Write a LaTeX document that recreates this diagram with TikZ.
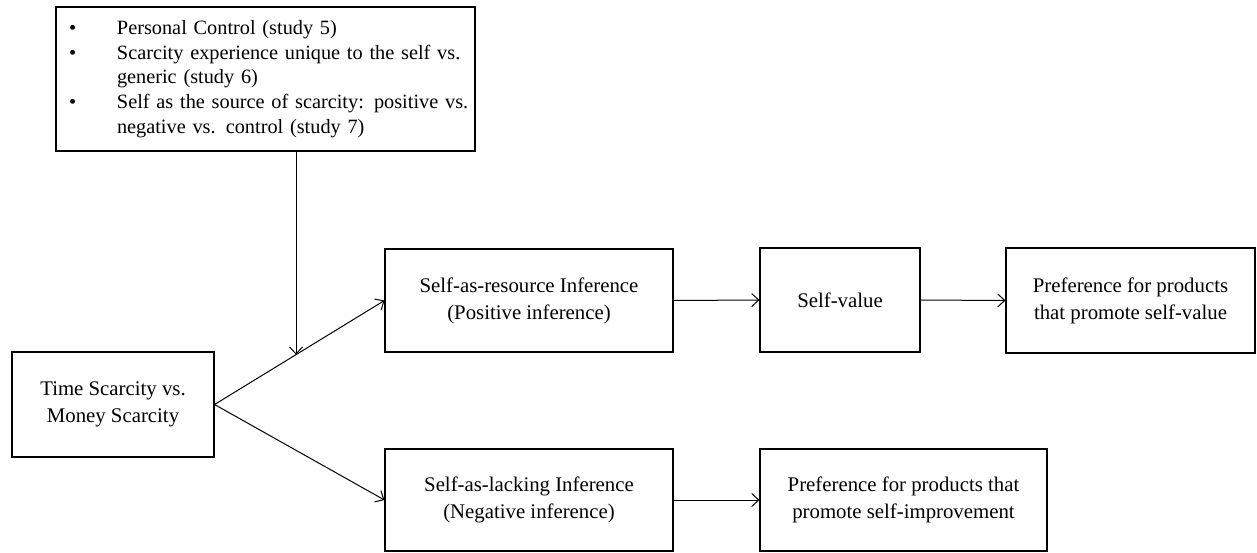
\documentclass[tikz,border=0pt]{standalone}
\usepackage{fontspec}
\setmainfont{Liberation Serif}
\usetikzlibrary{arrows.meta,calc}
\begin{document}
\begin{tikzpicture}[x=1pt,y=-1pt,
  box/.style={draw=black,line width=1.1pt,rectangle,inner sep=0pt,align=center,
    font=\fontsize{20.8}{27}\selectfont},
  conn/.style={draw=black,line width=1pt,-{Straight Barb[length=7pt,width=13pt,line width=1pt]}},
  plain/.style={draw=black,line width=1pt}]
\useasboundingbox (0,0) rectangle (1257,552);
\node[box,minimum width=419pt,minimum height=144pt,text width=393pt,inner xsep=13pt,align=left,
  font=\fontsize{20.3}{24.7}\selectfont] (top) at (265.5,79)
  {\begin{tabular}{@{}p{48pt}@{}l@{}}
  \textbullet & Personal Control (study 5)\\
  \textbullet & Scarcity experience unique to the self vs.\\
  & generic (study 6)\\
  \textbullet & Self as the source of scarcity: positive vs.\\
  & negative vs. control (study 7)
  \end{tabular}};
\node[box,minimum width=202pt,minimum height=105pt] (time) at (113,404.5) {Time Scarcity vs.\\Money Scarcity};
\node[box,minimum width=288pt,minimum height=103pt] (res) at (529,300.5) {Self-as-resource Inference\\(Positive inference)};
\node[box,minimum width=160pt,minimum height=104pt] (sv) at (840,300) {Self-value};
\node[box,minimum width=249pt,minimum height=105pt] (prefv) at (1130.5,300.5) {Preference for products\\that promote self-value};
\node[box,minimum width=288pt,minimum height=102pt] (lack) at (529,500) {Self-as-lacking Inference\\(Negative inference)};
\node[box,minimum width=287pt,minimum height=102pt] (prefi) at (903.5,500) {Preference for products that\\promote self-improvement};
\coordinate (m) at ($(time.east)!0.4795!(res.west)$);
\draw[conn] (time.east) -- (res.west);
\draw[conn] (time.east) -- (lack.west);
\draw[conn] (top.south -| m) -- (m);
\draw[conn] (res.east) -- (sv.west);
\draw[conn] (sv.east) -- (prefv.west);
\draw[conn] (lack.east) -- (prefi.west);
\end{tikzpicture}
\end{document}
